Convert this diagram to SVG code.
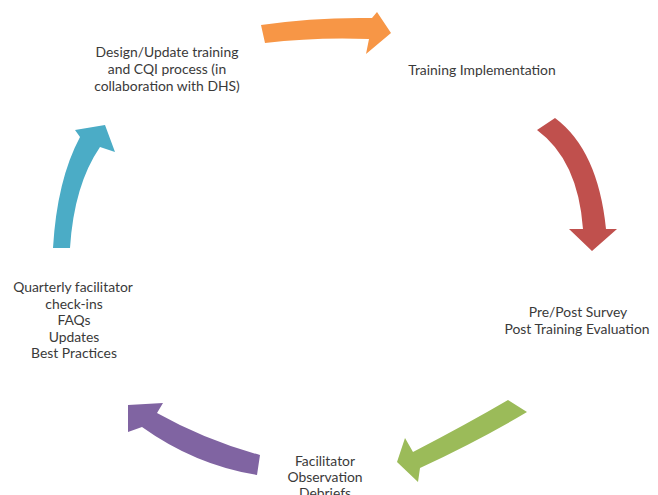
<svg xmlns="http://www.w3.org/2000/svg" width="658" height="495" viewBox="0 0 658 495">
<style>
  .lbl { font-family: Lato, "Liberation Sans", sans-serif; font-size: 13.9px; fill: #3a3a3a; text-anchor: middle; }
</style>
<rect width="658" height="495" fill="#ffffff"/>
<g id="connectors">
  <path id="arrow-orange" fill="#F79646" d="M261,25 Q315,17 372,18 L377,12 L391,33 L366,54 L369,39 Q315,37 265,43 Z"/>
  <path id="arrow-red" fill="#C0504D" d="M537,130 L555,118 Q598,150 606,229 L617,229 L592,251 L569,229 L583,229 Q578,160 537,130 Z"/>
  <path id="arrow-green" fill="#9BBB59" d="M508,400 L527,412 Q480,440 420,468 L418,482 L397,462 L405,438 L413,452 Q467,424 508,400 Z"/>
  <path id="arrow-purple" fill="#8064A2" d="M260,455 Q205,440 157,413 L163,403 L128,405 L128,432 L142,427 Q195,465 257,475 Z"/>
  <path id="arrow-cyan" fill="#4BACC6" d="M53,248 Q57,180 80,137 L75,130 L105,125 L115,152 L100,147 Q74,185 70,248 Z"/>
</g>
<g id="node-design">
  <text class="lbl" x="167" y="57">Design/Update training</text>
  <text class="lbl" x="167" y="74">and CQI process (in</text>
  <text class="lbl" x="167" y="91">collaboration with DHS)</text>
</g>
<g id="node-training">
  <text class="lbl" x="482" y="75">Training Implementation</text>
</g>
<g id="node-survey">
  <text class="lbl" x="578" y="317">Pre/Post Survey</text>
  <text class="lbl" x="577" y="334">Post Training Evaluation</text>
</g>
<g id="node-facilitator">
  <text class="lbl" x="325" y="466">Facilitator</text>
  <text class="lbl" x="325" y="482">Observation</text>
  <text class="lbl" x="325" y="498">Debriefs</text>
</g>
<g id="node-quarterly">
  <text class="lbl" x="73" y="292">Quarterly facilitator</text>
  <text class="lbl" x="74" y="308.5">check-ins</text>
  <text class="lbl" x="74" y="325">FAQs</text>
  <text class="lbl" x="74" y="341.5">Updates</text>
  <text class="lbl" x="74" y="358">Best Practices</text>
</g>
</svg>
